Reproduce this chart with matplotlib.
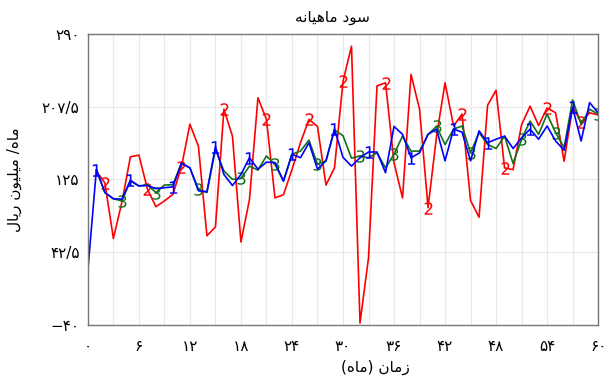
#!/usr/bin/env python3
# -*- coding: utf-8 -*-
"""
Monthly profit chart (three series), Persian labels.
"""

import numpy as np
import matplotlib
matplotlib.use('Agg')
import matplotlib.pyplot as plt
from matplotlib.ticker import MultipleLocator

plt.rcParams['font.family'] = ['DejaVu Sans']

# months 0..60
months = list(range(61))

# series "1" (blue)
series_1 = [22, 136, 110, 103, 102.5, 124, 117.5, 118, 114.5, 115.5,
            116.5, 143.5, 138, 112, 111, 162, 130.5, 118, 130.5, 149.5,
            136.5, 144.5, 144, 123, 153.5, 149.5, 166.5, 136.5, 146, 182,
            150, 140, 149.5, 156, 156, 132.5, 185, 176, 149.5, 155,
            176, 182, 146, 182, 178.5, 146, 180, 166.5, 170.5, 174,
            160, 172, 182, 170.5, 185.5, 168.5, 158, 206.5, 168.5, 212,
            200.5]

# series "2" (red)
series_2 = [np.nan, 134, 121, 58, 99, 150.5, 152.5, 114, 94, 100.5,
            108, 139, 187.5, 162.5, 61, 71, 204.5, 174, 54, 102,
            217.5, 193, 104, 107.5, 136, 166.5, 193, 185, 118.5, 138,
            236, 276, -38, 36, 231, 234.5, 144, 104, 244, 204.5,
            93, 174, 234.5, 185.5, 199, 101, 82, 209, 226, 138,
            136, 187, 208, 186, 206, 200.5, 145.5, 207, 190, 200.5,
            198]

# series "3" (green)
series_3 = [np.nan, 136, 110, 103, 100.5, 123, 117.5, 119, 110, 118.5,
            119, 143, 138, 114, 110, 159, 134.5, 125, 126, 140,
            135.5, 151.5, 142, 123, 153.5, 157, 169.5, 142, 146, 181,
            174.5, 149, 151.5, 149.5, 155, 138, 153.5, 174, 157, 157,
            176, 185, 164.5, 182, 185.5, 155, 178, 164.5, 160, 174,
            143, 170.5, 191, 176, 199, 178, 161, 215, 187.5, 204.5,
            199]

# where the digit labels sit on each line
marks_1 = [1, 5, 10, 15, 19, 24, 29, 33, 38, 43, 47, 52, 57]
marks_2 = [2, 7, 11, 16, 21, 26, 30, 35, 40, 44, 49, 54, 58]
marks_3 = [4, 8, 13, 18, 22, 27, 32, 36, 41, 45, 51, 55, 60]

y_ticks = [-40, 42.5, 125, 207.5, 290]
y_tick_labels = ['\u2212\u06f4\u06f0', '\u06f4\u06f2/\u06f5', '\u06f1\u06f2\u06f5',
                 '\u06f2\u06f0\u06f7/\u06f5', '\u06f2\u06f9\u06f0']
x_ticks = list(range(0, 61, 6))

PERSIAN_DIGITS = '\u06f0\u06f1\u06f2\u06f3\u06f4\u06f5\u06f6\u06f7\u06f8\u06f9'


def fa_num(n):
    """integer -> Persian digits"""
    return ''.join(PERSIAN_DIGITS[int(c)] for c in str(n))


# texts already shaped and in visual (left to right) order
TITLE = '\ufeea\ufee7\ufe8e\ufef4\ufeeb\ufe8e\ufee3 \ufea9\ufeee\ufeb3'
X_LABEL = '(\ufee9\ufe8e\ufee3) \ufee5\ufe8e\ufee3\ufeaf'
Y_LABEL = '\ufedd\ufe8e\ufef3\ufead \ufee5\ufeee\ufef4\ufee0\ufef4\ufee3 /\ufee9\ufe8e\ufee3'


def main():
    fig = plt.figure(figsize=(6.06, 3.76), dpi=100)
    ax = fig.add_axes([0.145, 0.136, 0.842, 0.774])

    # digit markers drawn thin (no edge stroke)
    style = dict(lw=1.2, markersize=9, markeredgewidth=0)
    ax.plot(months, series_2, color='#ff0000', marker='$2$',
            markevery=marks_2, **style)
    ax.plot(months, series_3, color='#11711a', marker='$3$',
            markevery=marks_3, **style)
    ax.plot(months, series_1, color='#0000ff', marker='$1$',
            markevery=marks_1, **style)

    ax.set_xlim(0, 60)
    ax.set_ylim(-40, 290)

    ax.set_xticks(x_ticks)
    ax.set_xticklabels([fa_num(t) for t in x_ticks], fontsize=11)
    ax.xaxis.set_minor_locator(MultipleLocator(3))
    ax.set_yticks(y_ticks)
    ax.set_yticklabels(y_tick_labels, fontsize=11)

    ax.tick_params(axis='both', which='both', length=0)
    ax.tick_params(axis='x', pad=10)
    ax.tick_params(axis='y', pad=6)

    ax.grid(True, which='both', color='#e8e8e8', lw=0.8)
    ax.set_axisbelow(True)
    for s in ax.spines.values():
        s.set_color('#777777')
        s.set_linewidth(1.0)

    ax.set_title(TITLE, fontsize=11, pad=9, x=0.48)
    ax.set_xlabel(X_LABEL, fontsize=11)
    ax.xaxis.set_label_coords(0.563, -0.12)
    ax.set_ylabel(Y_LABEL, fontsize=11)
    ax.yaxis.set_label_coords(-0.13, 0.5)

    fig.savefig('out.png', dpi=100)


if __name__ == '__main__':
    main()
